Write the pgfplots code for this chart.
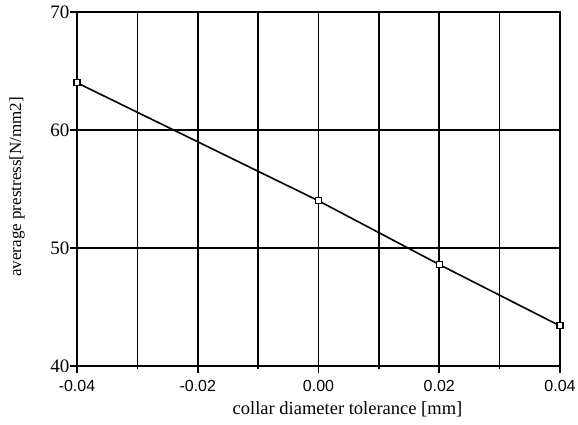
\documentclass[border=0pt]{standalone}
\usepackage{fontspec}
\setmainfont{Liberation Serif}
\setsansfont{Liberation Sans}
\usepackage{pgfplots}
\pgfplotsset{compat=1.18}
\begin{document}
\begin{tikzpicture}
\useasboundingbox (-77pt,-59pt) rectangle (501pt,366pt);
\begin{axis}[
  scale only axis,
  width=483pt, height=354pt,
  at={(0,0)}, anchor=south west,
  xmin=-0.04, xmax=0.04, ymin=40, ymax=70,
  xtick={-0.04,-0.02,0,0.02,0.04},
  minor xtick={-0.03,-0.01,0.01,0.03},
  ytick={40,50,60,70},
  grid=both,
  major grid style={black, line width=1.6pt},
  minor grid style={black, line width=1.6pt},
  axis line style={black, line width=1.6pt},
  every tick/.style={black, line width=1.6pt},
  minor tick style={black, line width=1.6pt},
  tick align=outside,
  major tick length=7pt,
  minor tick length=3pt,
  xtick pos=bottom, ytick pos=left,
  /pgf/number format/assume math mode=true,
  xticklabel style={font=\sffamily\fontsize{16}{16}\selectfont, yshift=-4pt, /pgf/number format/.cd, fixed, fixed zerofill, precision=2},
  yticklabel style={font=\fontsize{19}{19}\selectfont, xshift=3pt},
  scaled x ticks=false,
  xlabel={collar diameter tolerance [mm]},
  ylabel={average prestress[N/mm2]},
  xlabel style={font=\fontsize{18.5}{18.5}\selectfont, at={(axis description cs:0.56,-0.122)}, anchor=center},
  ylabel style={font=\fontsize{17}{17}\selectfont, at={(axis description cs:-0.124,0.506)}, anchor=center},
]
\addplot[black, line width=1.6pt, mark=square*, mark size=3pt, mark options={fill=white, line width=1.2pt}]
  coordinates {(-0.04,64.0) (0,54.0) (0.02,48.6) (0.04,43.4)};
\end{axis}
\end{tikzpicture}
\end{document}
